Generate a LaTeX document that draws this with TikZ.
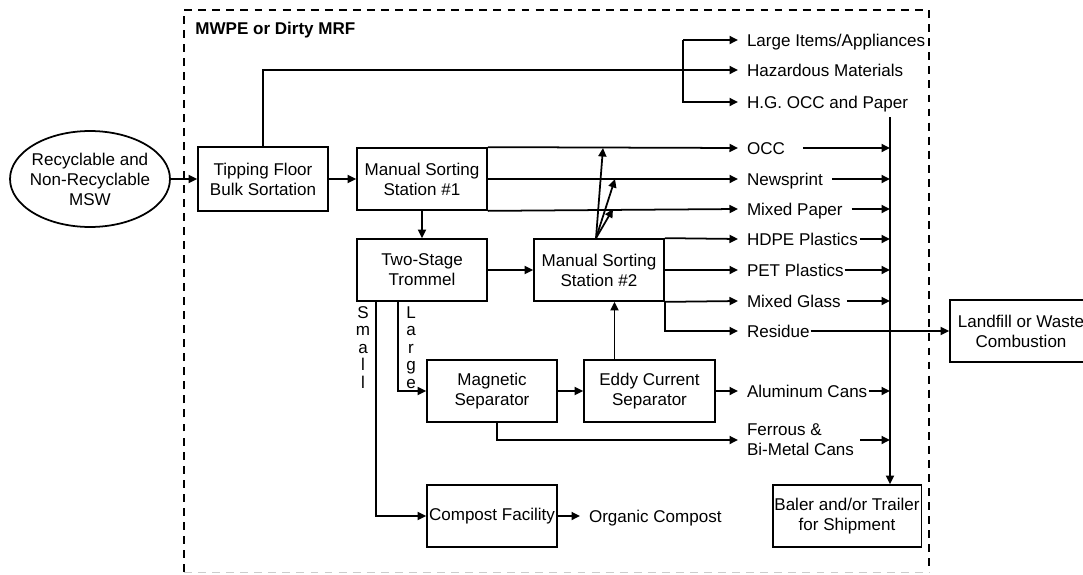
\documentclass[tikz,border=0pt]{standalone}
\usepackage{fontspec}
\setmainfont{Liberation Sans}
\usetikzlibrary{arrows.meta,shapes.geometric}
\newcommand{\plantfont}{\fontsize{9.7}{11.4}\selectfont}

\tikzset{
  unit/.style={draw, line width=1pt, minimum width=2.6cm, minimum height=1.24cm,
    align=center, inner sep=1pt},
  outlet/.style={anchor=west, inner sep=0pt, outer xsep=0.18cm},
  oneline/.style={outlet, text height=6.95pt, text depth=0pt},
  tag/.style={anchor=north, align=center, inner sep=0pt, font=\fontsize{9.7}{10}\selectfont},
  flow/.style={line width=1pt, -{Triangle[length=0.17cm,width=0.16cm]}},
  boundary/.style={line width=0.8pt, dash pattern=on 4.5pt off 3.5pt}
}

\begin{document}
\begin{tikzpicture}[x=0.02cm, y=-0.02cm, font=\plantfont]
  \useasboundingbox (0,0) rectangle (1083,575);

  % facility boundary
  \draw[boundary] (184,572) -- (184,10) -- (929,10) -- (929,572);
  \draw[boundary, black!20, line width=0.5pt] (184,572) -- (929,572);
  \node[anchor=west, inner sep=0pt, font=\plantfont\bfseries] (title) at (195,30) {MWPE or Dirty MRF};

  % process units
  \node[ellipse, draw, line width=1pt, minimum width=3.2cm, minimum height=1.92cm,
    inner xsep=-2.3pt, inner ysep=0pt, align=center] (msw) at (90,179) {Recyclable and\\Non-Recyclable\\MSW};
  \node[unit, minimum height=1.28cm] (tip) at (263,179) {Tipping Floor\\Bulk Sortation};
  \node[unit] (ms1) at (422,179) {Manual Sorting\\Station \#1};
  \node[unit] (trommel) at (422,270) {Two-Stage\\Trommel};
  \node[unit] (ms2) at (599,270) {Manual Sorting\\Station \#2};
  \node[unit] (magnet) at (492,391) {Magnetic\\Separator};
  \node[unit, minimum width=2.62cm] (eddy) at (649.5,391) {Eddy Current\\Separator};
  \node[unit] (compost) at (492,516) {Compost Facility};
  \node[unit, minimum width=2.96cm] (baler) at (847,516) {Baler and/or Trailer\\for Shipment};
  \node[unit, minimum width=2.84cm] (landfill) at (1021,331) {Landfill or Waste\\Combustion};

  % recovered streams
  \node[oneline] (appl) at (738,40) {Large Items/Appliances};
  \node[oneline] (hazard) at (738,70) {Hazardous Materials};
  \node[oneline] (hgocc) at (738,102) {H.G. OCC and Paper};
  \node[oneline] (occ) at (738,148) {OCC};
  \node[oneline] (news) at (738,179) {Newsprint};
  \node[oneline] (mpaper) at (738,209) {Mixed Paper};
  \node[oneline] (hdpe) at (738,239) {HDPE Plastics};
  \node[oneline] (pet) at (738,270) {PET Plastics};
  \node[oneline] (mglass) at (738,301) {Mixed Glass};
  \node[oneline] (residue) at (738,331) {Residue};
  \node[oneline] (alum) at (738,391) {Aluminum Cans};
  \node[outlet, align=left] (ferrous) at (738,440) {Ferrous \&\\Bi-Metal Cans};
  \node[oneline] (organic) at (580,516) {Organic Compost};

  \node[tag] (smalltag) at (363,306) {S\\m\\a\\l\\l};
  \node[tag] (largetag) at (411,306) {L\\a\\r\\g\\e};

  \coordinate (split) at (683,70);
  \coordinate (col) at (890,117);
  \coordinate (upa) at (603,148);
  \coordinate (upb) at (615,179);
  \coordinate (upc) at (613,209);

  % main line
  \draw[flow] (msw) -- (tip);
  \draw[flow] (tip) -- (ms1);
  \draw[flow] (tip.north) |- (hazard.west);
  \draw[flow] (split |- appl.west) -- (appl.west);
  \draw[flow] (split |- appl.west) |- (hgocc.west);

  \draw[flow] (ms1.north east) -- (occ.west);
  \draw[flow] (ms1.east) -- (news.west);
  \draw[flow] (ms1.south east) -- (mpaper.west);
  \draw[flow] (ms1) -- (trommel);
  \draw[flow] (trommel) -- (ms2);

  \draw[flow] ([xshift=-0.06cm]ms2.north) -- (upa);
  \draw[flow] ([xshift=-0.06cm]ms2.north) -- (upb);
  \draw[flow] ([xshift=-0.06cm]ms2.north) -- (upc);
  \draw[flow] (ms2.north east) -- (hdpe.west);
  \draw[flow] (ms2.east) -- (pet.west);
  \draw[flow] (ms2.south east) -- (mglass.west);
  \draw[flow] (ms2.south east) |- (residue.west);
  \draw[flow] ([xshift=-0.16cm]residue.east) -- (landfill.west);

  % trommel fractions
  \draw[flow] ([xshift=-0.48cm]trommel.south) |- (magnet.west);
  \draw[flow] ([xshift=-0.92cm]trommel.south) |- (compost.west);
  \draw[flow] (magnet) -- (eddy);
  \draw[flow] ([xshift=-0.7cm]eddy.north) -- ([xshift=-0.7cm]eddy.north |- ms2.south);
  \draw[flow] (eddy) -- (alum.west);
  \draw[flow] ([xshift=0.1cm]magnet.south) |- (ferrous.west);
  \draw[flow] (compost) -- (organic.west);

  % to baler
  \draw[flow] ([xshift=0.18cm]occ.east) -- (occ.east -| col);
  \draw[flow] (news.east) -- (news.east -| col);
  \draw[flow] (mpaper.east) -- (mpaper.east -| col);
  \draw[flow] ([xshift=-0.14cm]hdpe.east) -- (hdpe.east -| col);
  \draw[flow] ([xshift=-0.16cm]pet.east) -- (pet.east -| col);
  \draw[flow] ([xshift=-0.06cm]mglass.east) -- (mglass.east -| col);
  \draw[flow] ([xshift=-0.14cm]alum.east) -- (alum.east -| col);
  \draw[flow] ([xshift=-0.06cm]ferrous.east) -- (ferrous.east -| col);
  \draw[flow] (col) -- (col |- baler.north);
\end{tikzpicture}
\end{document}
